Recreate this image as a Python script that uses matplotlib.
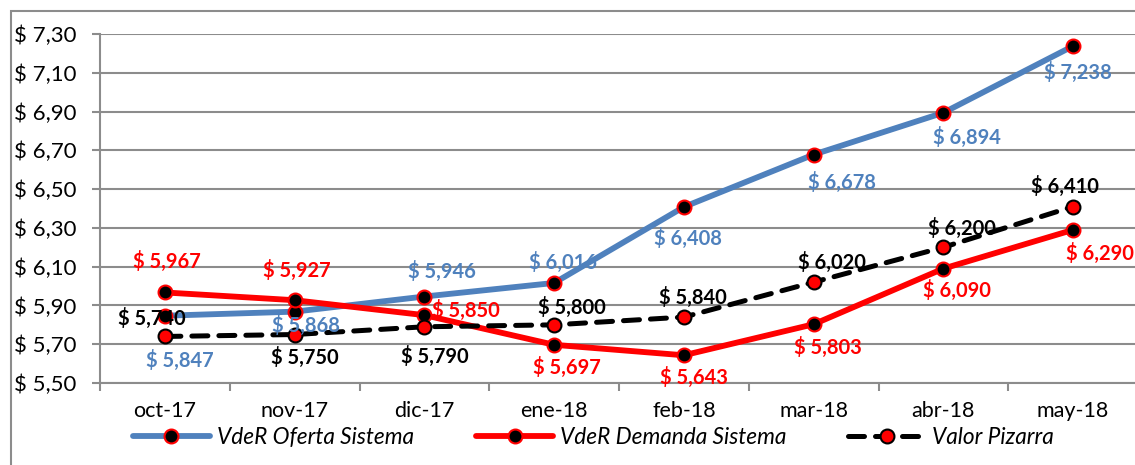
import matplotlib
matplotlib.use("Agg")
import matplotlib.pyplot as plt
from matplotlib.patches import Rectangle

# ---- data ----
categories = ["oct-17", "nov-17", "dic-17", "ene-18", "feb-18", "mar-18", "abr-18", "may-18"]
oferta = [5.847, 5.868, 5.946, 6.016, 6.408, 6.678, 6.894, 7.238]
demanda = [5.967, 5.927, 5.850, 5.697, 5.643, 5.803, 6.090, 6.290]
pizarra = [5.740, 5.750, 5.790, 5.800, 5.840, 6.020, 6.200, 6.410]
yticks = [5.50, 5.70, 5.90, 6.10, 6.30, 6.50, 6.70, 6.90, 7.10, 7.30]
series_names = ["VdeR Oferta Sistema", "VdeR Demanda Sistema", "Valor Pizarra"]

# ---- label offsets (pixels) ----
off_oferta = [(15, -45), (11, -14), (18, 25), (9, 21), (4, -32), (28, -28), (24, -25), (5, -26)]
off_demanda = [(2, 31), (2, 30), (41, 5), (13, -23), (10, -22), (14, -23), (14, -22), (27, -24)]
off_pizarra = [(-13, 18), (10, -23), (10, -30), (18, 17), (9, 20), (18, 20), (19, 19), (-8, 20)]

FONT = "Lato"
LFS = 14.5
plt.rcParams['font.family'] = [FONT, 'DejaVu Sans']

W, H = 1135, 465
fig = plt.figure(figsize=(W / 100, H / 100), dpi=100)
ax = fig.add_axes([100 / W, (H - 383) / H, (1138 - 100) / W, (383 - 34) / H])

BLUE = "#4F81BD"
RED = "#FF0000"
GRID = "#8C8C8C"

x = list(range(len(categories)))
l1, = ax.plot(x, oferta, color=BLUE, lw=4.2, marker="o", ms=10, mfc="black", mec=RED, mew=1.5,
              solid_capstyle="round", zorder=4)
l2, = ax.plot(x, demanda, color=RED, lw=4.2, marker="o", ms=10, mfc="black", mec=RED, mew=1.5,
              solid_capstyle="round", zorder=4)
l3, = ax.plot(x, pizarra, color="black", lw=3.6, ls=(0, (3.2, 2.2)), marker="o", ms=10, mfc=RED,
              mec="black", mew=1.5, dash_capstyle="round", zorder=4)

def fmt(v):
    return "$ " + f"{v:.3f}".replace(".", ",")

for vals, offs, col in [(oferta, off_oferta, BLUE), (demanda, off_demanda, RED), (pizarra, off_pizarra, "black")]:
    for i, (v, (dx, dy)) in enumerate(zip(vals, offs)):
        ax.annotate(fmt(v), (i, v), xytext=(dx, dy), textcoords="offset pixels",
                    ha="center", va="center", color=col, fontsize=LFS, fontweight="bold",
                    zorder=6)

ax.set_xlim(-0.5, len(categories) - 0.5)
ax.set_ylim(5.5, 7.3)
ax.set_yticks(yticks)
ax.set_yticklabels([f"$ {t:.2f}".replace(".", ",") for t in yticks], fontsize=16)
ax.set_xticks(x)
ax.set_xticklabels(categories, fontsize=15.5)
ax.set_xticks([i - 0.5 for i in range(len(categories) + 1)], minor=True)
ax.tick_params(axis="x", which="major", length=0, pad=13)
ax.tick_params(axis="x", which="minor", length=6, color=GRID, width=1.5)
ax.tick_params(axis="y", length=6, color=GRID, width=1.5, pad=11)

ax.grid(axis="y", color=GRID, lw=1.5)
ax.set_axisbelow(True)
for s in ["top", "right"]:
    ax.spines[s].set_visible(False)
for s in ["left", "bottom"]:
    ax.spines[s].set_color(GRID)
    ax.spines[s].set_linewidth(1.5)

# outer chart border
fig.patches.append(Rectangle((11 / W, -0.1), 1.2, (H - 11) / H + 0.1, transform=fig.transFigure,
                             fill=False, edgecolor=GRID, lw=1.5))

leg = fig.legend([l1, l2, l3], series_names, loc="center left", bbox_to_anchor=(133 / W, 1 - 437 / H),
                 ncol=3, frameon=False, handlelength=3.4, handletextpad=0.3, columnspacing=2.75,
                 borderaxespad=0, borderpad=0,
                 prop={"family": FONT, "style": "italic", "size": 16.3})

fig.savefig("out.png", dpi=100)
